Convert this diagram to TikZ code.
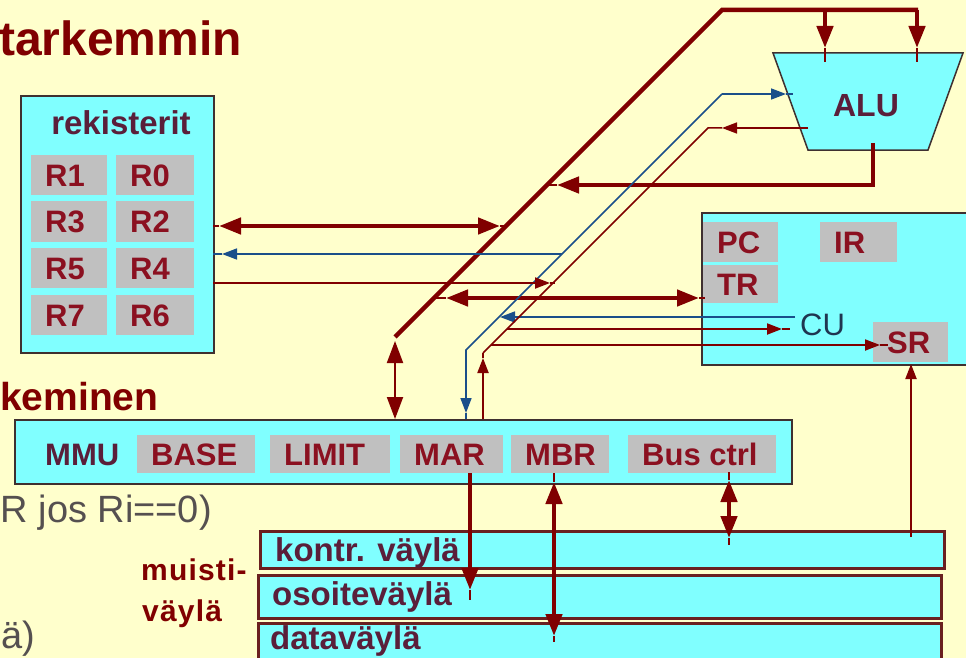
\documentclass[tikz,border=0pt]{standalone}
\usepackage{fontspec}
\setmainfont{Liberation Sans}
\usetikzlibrary{arrows.meta}
\definecolor{bgc}{HTML}{FFFFCC}
\definecolor{cyc}{HTML}{80FFFF}
\definecolor{cellc}{HTML}{C0C0C0}
\definecolor{dred}{HTML}{800000}
\definecolor{dblue}{HTML}{1A4F8A}
\definecolor{celltxt}{HTML}{8B1020}
\definecolor{lbltxt}{HTML}{5A1F3A}
\definecolor{edgec}{HTML}{3F3030}
\definecolor{busedge}{HTML}{6A2020}
\definecolor{graytxt}{HTML}{555050}
\definecolor{navyc}{HTML}{1F3550}
\newcommand{\myfs}[1]{\fontsize{#1pt}{#1pt}\selectfont}
\tikzset{
  BigT/.tip={Triangle[length=22pt,width=16pt]},
  SmallT/.tip={Triangle[length=15pt,width=11pt]},
}
\newcommand{\mkcell}[6]{%
  \node[cellbg,minimum width=#4pt,minimum height=#5pt] (#1) at (#2,#3) {};
  \node[celltext] (#1t) at ([xshift=14pt,yshift=-11pt]#1.west) {#6};}
\begin{document}
\begin{tikzpicture}[x=1pt,y=-1pt,
  boxc/.style={draw=edgec,line width=2pt,fill=cyc,inner sep=0pt,anchor=north west},
  busbox/.style={draw=busedge,line width=2.5pt,fill=cyc,inner sep=0pt,anchor=north west},
  cellbg/.style={fill=cellc,draw=none,inner sep=0pt,anchor=north west},
  celltext/.style={inner sep=0pt,anchor=base west,text=celltxt,font=\myfs{31}\bfseries},
  tbus/.style={draw=dred,line width=4.5pt},
  mred/.style={draw=dred,line width=2pt},
  tred/.style={draw=dred,line width=1.5pt},
  tblue/.style={draw=dblue,line width=1.6pt},
  lbl/.style={inner sep=0pt,anchor=base},
]
\clip (0,0) rectangle (966,658);
\fill[bgc] (0,0) rectangle (966,658);

% texts on the slide
\node[lbl,anchor=base west,text=dred,font=\myfs{48}\bfseries] (title) at (-1,56) {tarkemmin};
\node[lbl,anchor=base west,text=dred,font=\myfs{39}\bfseries] (sub) at (0,410) {keminen};
\node[lbl,anchor=base east,text=graytxt,font=\myfs{38}] (cond) at (212,522) {R jos Ri==0)};
\node[lbl,anchor=base west,text=graytxt,font=\myfs{38}] (tail) at (1,648) {ä)};

% registers
\node[boxc,minimum width=193pt,minimum height=257pt] (reg) at (20,95) {};
\node[lbl,text=lbltxt,font=\myfs{33}\bfseries] (regt) at (121,135) {rekisterit};
\mkcell{r1}{31}{155}{76}{40}{R1}
\mkcell{r0}{116}{155}{78}{40}{R0}
\mkcell{r3}{31}{201}{76}{41}{R3}
\mkcell{r2}{116}{201}{78}{41}{R2}
\mkcell{r5}{31}{248}{76}{40}{R5}
\mkcell{r4}{116}{248}{78}{40}{R4}
\mkcell{r7}{31}{295}{76}{40}{R7}
\mkcell{r6}{116}{295}{78}{40}{R6}

% ALU
\coordinate (aluA) at (773,53);
\coordinate (aluB) at (963,53);
\coordinate (aluC) at (928,150);
\coordinate (aluD) at (808,150);
\draw[draw=edgec,line width=1.5pt,fill=cyc] (aluA) -- (aluB) -- (aluC) -- (aluD) -- cycle;
\node[lbl,text=lbltxt,font=\myfs{32}\bfseries] (alu) at (866,117) {ALU};

% control unit
\node[boxc,minimum width=280pt,minimum height=152pt] (cpu) at (701,212) {};
\mkcell{pc}{703}{222}{75}{40}{PC}
\mkcell{ir}{820}{222}{77}{40}{IR}
\mkcell{tr}{703}{265}{75}{38}{TR}
\mkcell{sr}{873}{322}{75}{40}{SR}
\node[lbl,anchor=base west,text=navyc,font=\myfs{31}] (cu) at (800,335) {CU};

% MMU
\node[boxc,minimum width=777pt,minimum height=64pt] (mmu) at (14,419) {};
\node[lbl,anchor=base west,text=lbltxt,font=\myfs{31}\bfseries] (mmut) at (45,465) {MMU};
\mkcell{base}{137}{435}{118}{38}{BASE}
\mkcell{limit}{270}{435}{120}{38}{LIMIT}
\mkcell{mar}{400}{435}{103}{38}{MAR}
\mkcell{mbr}{511}{435}{98}{38}{MBR}
\mkcell{busc}{628}{435}{148}{38}{Bus ctrl}

% memory buses
\node[busbox,minimum width=684pt,minimum height=37pt] (kbus) at (259,530) {};
\node[busbox,minimum width=683pt,minimum height=43pt] (abus) at (257,574) {};
\node[busbox,minimum width=683pt,minimum height=50pt] (dbus) at (257,622) {};
\node[lbl,anchor=base west,text=lbltxt,font=\myfs{33}\bfseries] (kbust) at (275,561) {kontr. väylä};
\node[lbl,anchor=base west,text=lbltxt,font=\myfs{33}\bfseries] (abust) at (272,605) {osoiteväylä};
\node[lbl,anchor=base west,text=lbltxt,font=\myfs{33}\bfseries] (dbust) at (270,649) {dataväylä};
\node[lbl,anchor=base west,text=dred,font={\myfs{30}\bfseries\addfontfeature{LetterSpace=4}}] (mv1) at (141,580) {muisti-};
\node[lbl,anchor=base west,text=dred,font={\myfs{30}\bfseries\addfontfeature{LetterSpace=4}}] (mv2) at (142,621) {väylä};

% ---- main internal bus (thick)
\coordinate (mbC) at (395,337);
\coordinate (mbT) at (722,10);
\coordinate (mbE) at (918,10);
\coordinate (mbA1) at (825,10);
\coordinate (mbA2) at (917,10);
\coordinate (mbU) at (395,341);
\coordinate (mbM) at (395,419);
\draw[tbus] (mbC) -- (mbT) -- (mbE);
\draw[mred,{BigT}-{BigT}] (mbU) -- (mbM);

% ALU inputs
\coordinate (ai1) at (825,48); \coordinate (ai1e) at (825,62);
\coordinate (ai2) at (917,48); \coordinate (ai2e) at (917,62);
\draw[tbus,-{BigT}] (mbA1) -- (ai1);
\draw[mred] (ai1) -- (ai1e);
\draw[tbus,-{BigT}] (mbA2) -- (ai2);
\draw[mred] (ai2) -- (ai2e);

% ALU output
\coordinate (aoS) at (873,143);
\coordinate (aoK) at (873,185);
\coordinate (aoT) at (557,185);
\coordinate (aoJ) at (547,185);
\draw[tbus,-{BigT}] (aoS) -- (aoK) -- (aoT);
\draw[mred] (aoT) -- (aoJ);

% registers <-> bus
\coordinate (rg1) at (213,226); \coordinate (rg1t) at (219,226);
\coordinate (rg2t) at (500,226); \coordinate (rg2) at (506,226);
\draw[tbus,{BigT}-{BigT}] (rg1t) -- (rg2t);
\draw[mred] (rg1) -- (rg1t) (rg2t) -- (rg2);

% TR <-> bus
\coordinate (tr1) at (434,298); \coordinate (tr1t) at (446,298);
\coordinate (tr2t) at (699,298); \coordinate (tr2) at (705,298);
\draw[tbus,{BigT}-{BigT}] (tr1t) -- (tr2t);
\draw[mred] (tr1) -- (tr1t) (tr2t) -- (tr2);

% ---- blue control line
\coordinate (bA) at (793,94); \coordinate (bAt) at (786,94);
\coordinate (bT) at (722,94); \coordinate (bC) at (466,350);
\coordinate (bMt) at (466,413); \coordinate (bM) at (466,419);
\draw[tblue,-{SmallT}] (bT) -- (bAt);
\draw[tblue] (bAt) -- (bA);
\draw[tblue,-{SmallT}] (bT) -- (bC) -- (bMt);
\draw[tblue] (bMt) -- (bM);
\coordinate (bR0) at (562,254); \coordinate (bRt) at (222,254); \coordinate (bR) at (213,254);
\draw[tblue,-{SmallT}] (bR0) -- (bRt);
\draw[tblue] (bRt) -- (bR);
\coordinate (bCU) at (795,317); \coordinate (bCUt) at (500,317);
\draw[tblue,-{SmallT}] (bCU) -- (bCUt);

% ---- thin dark red control line
\coordinate (rA) at (808,128); \coordinate (rAt) at (722,128);
\coordinate (rT) at (708,128); \coordinate (rC) at (483,353);
\coordinate (rM) at (483,419); \coordinate (rMt) at (483,358);
\draw[tred,-{SmallT}] (rA) -- (rAt);
\draw[tred] (rAt) -- (rT) -- (rC);
\draw[mred,-{SmallT}] (rM) -- (rMt);
\draw[mred] (rMt) -- (rC);
\coordinate (rR) at (213,283); \coordinate (rRt) at (550,283); \coordinate (rRe) at (555,283);
\draw[mred,-{SmallT}] (rR) -- (rRt);
\draw[mred] (rRt) -- (rRe);
\coordinate (rCU0) at (507,329); \coordinate (rCUt) at (782,329); \coordinate (rCU) at (790,329);
\draw[mred,-{SmallT}] (rCU0) -- (rCUt);
\draw[mred] (rCUt) -- (rCU);
\coordinate (rSR0) at (491,345); \coordinate (rSRt) at (880,345); \coordinate (rSR) at (888,345);
\draw[mred,-{SmallT}] (rSR0) -- (rSRt);
\draw[mred] (rSRt) -- (rSR);

% SR from control bus
\coordinate (srB) at (911,537); \coordinate (srT) at (911,364);
\draw[mred,-{SmallT}] (srB) -- (srT);

% MMU <-> memory buses
\coordinate (mar0) at (470,473); \coordinate (mart) at (470,590); \coordinate (mare) at (470,600);
\draw[tbus,-{BigT}] (mar0) -- (mart);
\draw[mred] (mart) -- (mare);
\coordinate (mbr0) at (554,473); \coordinate (mbrt1) at (554,482);
\coordinate (mbrt2) at (554,636); \coordinate (mbre) at (554,642);
\draw[tbus,{BigT}-{BigT}] (mbrt1) -- (mbrt2);
\draw[mred] (mbr0) -- (mbrt1) (mbrt2) -- (mbre);
\coordinate (bc0) at (729,472); \coordinate (bct1) at (729,480);
\coordinate (bct2) at (729,538); \coordinate (bce) at (729,545);
\draw[tbus,{BigT}-{BigT}] (bct1) -- (bct2);
\draw[mred] (bc0) -- (bct1) (bct2) -- (bce);
\end{tikzpicture}
\end{document}
